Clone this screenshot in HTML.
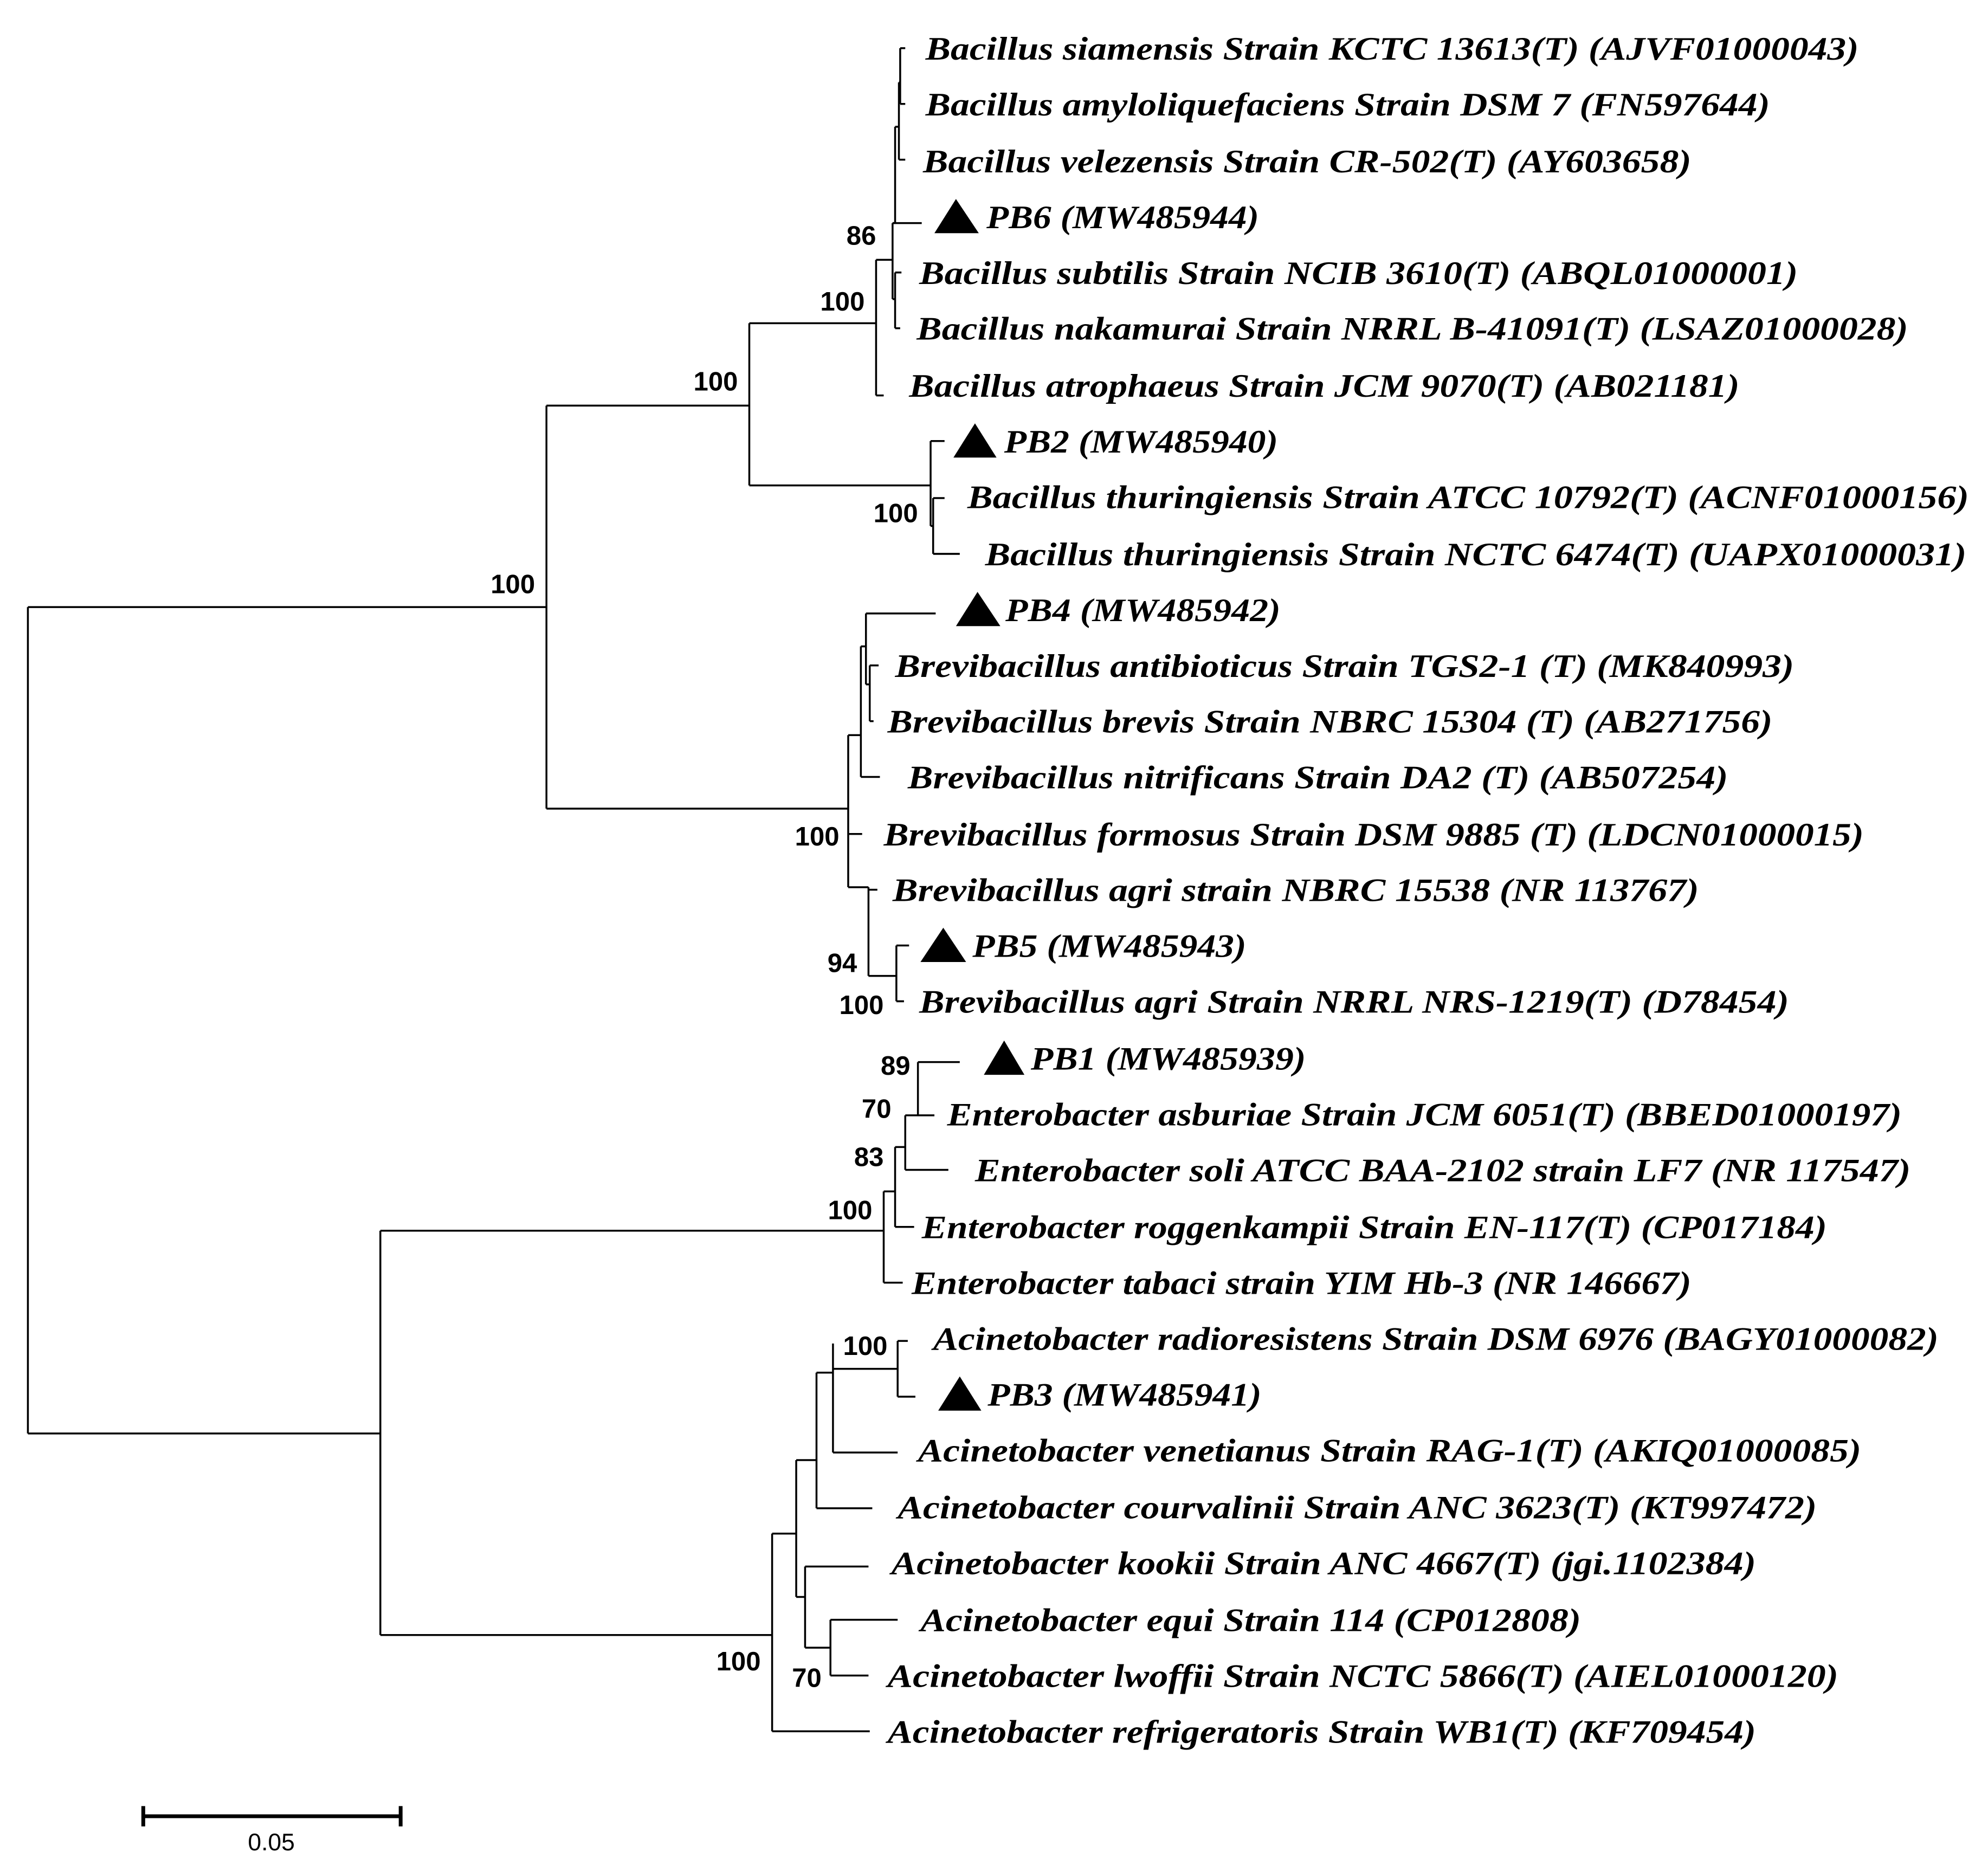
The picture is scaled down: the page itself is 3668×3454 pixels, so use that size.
<!DOCTYPE html>
<html><head><meta charset="utf-8"><style>
html,body{margin:0;padding:0;background:#fff}
svg{display:block}
.l{font-family:"Liberation Serif",serif;font-style:italic;font-weight:bold;font-size:26px;fill:#000}
.b{font-family:"Liberation Sans",sans-serif;font-weight:bold;font-size:21px;fill:#000;text-anchor:end}
</style></head><body>
<svg width="3668" height="3454" viewBox="0 0 1568 1477" preserveAspectRatio="none" xmlns="http://www.w3.org/2000/svg">
<g stroke="#000" stroke-width="1.5" fill="none">
<!-- root -->
<path d="M22 479V1131M22 479H431M22 1131H300"/>
<path d="M431 320V638M431 320H591M431 638H669"/>
<path d="M591 255V383M591 255H691M591 383H734"/>
<path d="M691 205V312M691 312H697M691 205H704"/>
<path d="M704 176V236M704 176H727M704 236H706M706 215V259M706 215H711M706 259H710"/>
<path d="M704 176H706M706 100V176M706 100H709M709 65V126M709 126H714M709 65H710M710 38V82M710 38H714M710 82H714"/>
<path d="M734 348V415M734 348H745M734 415H736M736 393V437M736 393H745M736 437H757"/>
<path d="M669 580V700M669 580H679M679 510V613M679 613H694M679 510H683M683 484V540M683 484H738M683 540H686M686 525V569M686 525H693M686 569H689"/>
<path d="M669 658H680M669 700H685M685 700V770M685 702H692M685 770H707M707 746V790M707 746H717M707 790H713"/>
<path d="M300 971V1290M300 971H697M697 940V1012M697 1012H712M697 940H706M706 905V968M706 968H721M706 905H714M714 880V923M714 923H748M714 880H724M724 838V880M724 838H757M724 880H737"/>
<path d="M300 1290H609M609 1210V1366M609 1366H686M609 1210H628M628 1152V1260M628 1152H644M644 1083V1190M644 1190H688M644 1083H657M657 1060V1146M657 1146H708M657 1080H708M708 1058V1102M708 1058H716M708 1102H722"/>
<path d="M628 1260H635M635 1236V1300M635 1236H685M635 1300H655M655 1278V1322M655 1278H708M655 1322H685"/>
<path d="M113 1433H316M113 1425V1441M316 1425V1441" stroke-width="3"/>
</g>
<g fill="#000">
<polygon points="737,184 754,157 772,184"/>
<polygon points="752,361 769,334 786,361"/>
<polygon points="754,494 771,467 789,494"/>
<polygon points="726,759 744,732 762,759"/>
<polygon points="776,848 792,821 808,848"/>
<polygon points="740,1113 757,1086 774,1113"/>
</g>
<g class="l">
<text x="730" y="47" textLength="736" lengthAdjust="spacingAndGlyphs">Bacillus siamensis Strain KCTC 13613(T) (AJVF01000043)</text>
<text x="730" y="91" textLength="666" lengthAdjust="spacingAndGlyphs">Bacillus amyloliquefaciens Strain DSM 7 (FN597644)</text>
<text x="728" y="136" textLength="606" lengthAdjust="spacingAndGlyphs">Bacillus velezensis Strain CR-502(T) (AY603658)</text>
<text x="778" y="180" textLength="215" lengthAdjust="spacingAndGlyphs">PB6 (MW485944)</text>
<text x="725" y="224" textLength="693" lengthAdjust="spacingAndGlyphs">Bacillus subtilis Strain NCIB 3610(T) (ABQL01000001)</text>
<text x="723" y="268" textLength="782" lengthAdjust="spacingAndGlyphs">Bacillus nakamurai Strain NRRL B-41091(T) (LSAZ01000028)</text>
<text x="717" y="313" textLength="655" lengthAdjust="spacingAndGlyphs">Bacillus atrophaeus Strain JCM 9070(T) (AB021181)</text>
<text x="792" y="357" textLength="216" lengthAdjust="spacingAndGlyphs">PB2 (MW485940)</text>
<text x="763" y="401" textLength="790" lengthAdjust="spacingAndGlyphs">Bacillus thuringiensis Strain ATCC 10792(T) (ACNF01000156)</text>
<text x="777" y="446" textLength="774" lengthAdjust="spacingAndGlyphs">Bacillus thuringiensis Strain NCTC 6474(T) (UAPX01000031)</text>
<text x="793" y="490" textLength="217" lengthAdjust="spacingAndGlyphs">PB4 (MW485942)</text>
<text x="706" y="534" textLength="709" lengthAdjust="spacingAndGlyphs">Brevibacillus antibioticus Strain TGS2-1 (T) (MK840993)</text>
<text x="700" y="578" textLength="698" lengthAdjust="spacingAndGlyphs">Brevibacillus brevis Strain NBRC 15304 (T) (AB271756)</text>
<text x="716" y="622" textLength="647" lengthAdjust="spacingAndGlyphs">Brevibacillus nitrificans Strain DA2 (T) (AB507254)</text>
<text x="697" y="667" textLength="773" lengthAdjust="spacingAndGlyphs">Brevibacillus formosus Strain DSM 9885 (T) (LDCN01000015)</text>
<text x="704" y="711" textLength="636" lengthAdjust="spacingAndGlyphs">Brevibacillus agri strain NBRC 15538 (NR 113767)</text>
<text x="767" y="755" textLength="216" lengthAdjust="spacingAndGlyphs">PB5 (MW485943)</text>
<text x="725" y="799" textLength="686" lengthAdjust="spacingAndGlyphs">Brevibacillus agri Strain NRRL NRS-1219(T) (D78454)</text>
<text x="813" y="844" textLength="217" lengthAdjust="spacingAndGlyphs">PB1 (MW485939)</text>
<text x="747" y="888" textLength="753" lengthAdjust="spacingAndGlyphs">Enterobacter asburiae Strain JCM 6051(T) (BBED01000197)</text>
<text x="769" y="932" textLength="738" lengthAdjust="spacingAndGlyphs">Enterobacter soli ATCC BAA-2102 strain LF7 (NR 117547)</text>
<text x="727" y="977" textLength="714" lengthAdjust="spacingAndGlyphs">Enterobacter roggenkampii Strain EN-117(T) (CP017184)</text>
<text x="719" y="1021" textLength="615" lengthAdjust="spacingAndGlyphs">Enterobacter tabaci strain YIM Hb-3 (NR 146667)</text>
<text x="736" y="1065" textLength="793" lengthAdjust="spacingAndGlyphs">Acinetobacter radioresistens Strain DSM 6976 (BAGY01000082)</text>
<text x="779" y="1109" textLength="216" lengthAdjust="spacingAndGlyphs">PB3 (MW485941)</text>
<text x="724" y="1153" textLength="744" lengthAdjust="spacingAndGlyphs">Acinetobacter venetianus Strain RAG-1(T) (AKIQ01000085)</text>
<text x="708" y="1198" textLength="725" lengthAdjust="spacingAndGlyphs">Acinetobacter courvalinii Strain ANC 3623(T) (KT997472)</text>
<text x="703" y="1242" textLength="682" lengthAdjust="spacingAndGlyphs">Acinetobacter kookii Strain ANC 4667(T) (jgi.1102384)</text>
<text x="726" y="1287" textLength="521" lengthAdjust="spacingAndGlyphs">Acinetobacter equi Strain 114 (CP012808)</text>
<text x="700" y="1331" textLength="750" lengthAdjust="spacingAndGlyphs">Acinetobacter lwoffii Strain NCTC 5866(T) (AIEL01000120)</text>
<text x="700" y="1375" textLength="685" lengthAdjust="spacingAndGlyphs">Acinetobacter refrigeratoris Strain WB1(T) (KF709454)</text>
</g>
<g class="b">
<text x="422" y="468">100</text>
<text x="582" y="308">100</text>
<text x="682" y="245">100</text>
<text x="691" y="193">86</text>
<text x="724" y="412">100</text>
<text x="662" y="667">100</text>
<text x="676" y="767">94</text>
<text x="697" y="800">100</text>
<text x="718" y="848">89</text>
<text x="703" y="882">70</text>
<text x="697" y="920">83</text>
<text x="688" y="962">100</text>
<text x="700" y="1069">100</text>
<text x="600" y="1318">100</text>
<text x="648" y="1331">70</text>
</g>
<text x="214" y="1460" font-family="Liberation Sans,sans-serif" font-size="19" text-anchor="middle">0.05</text>
</svg>
</body></html>
